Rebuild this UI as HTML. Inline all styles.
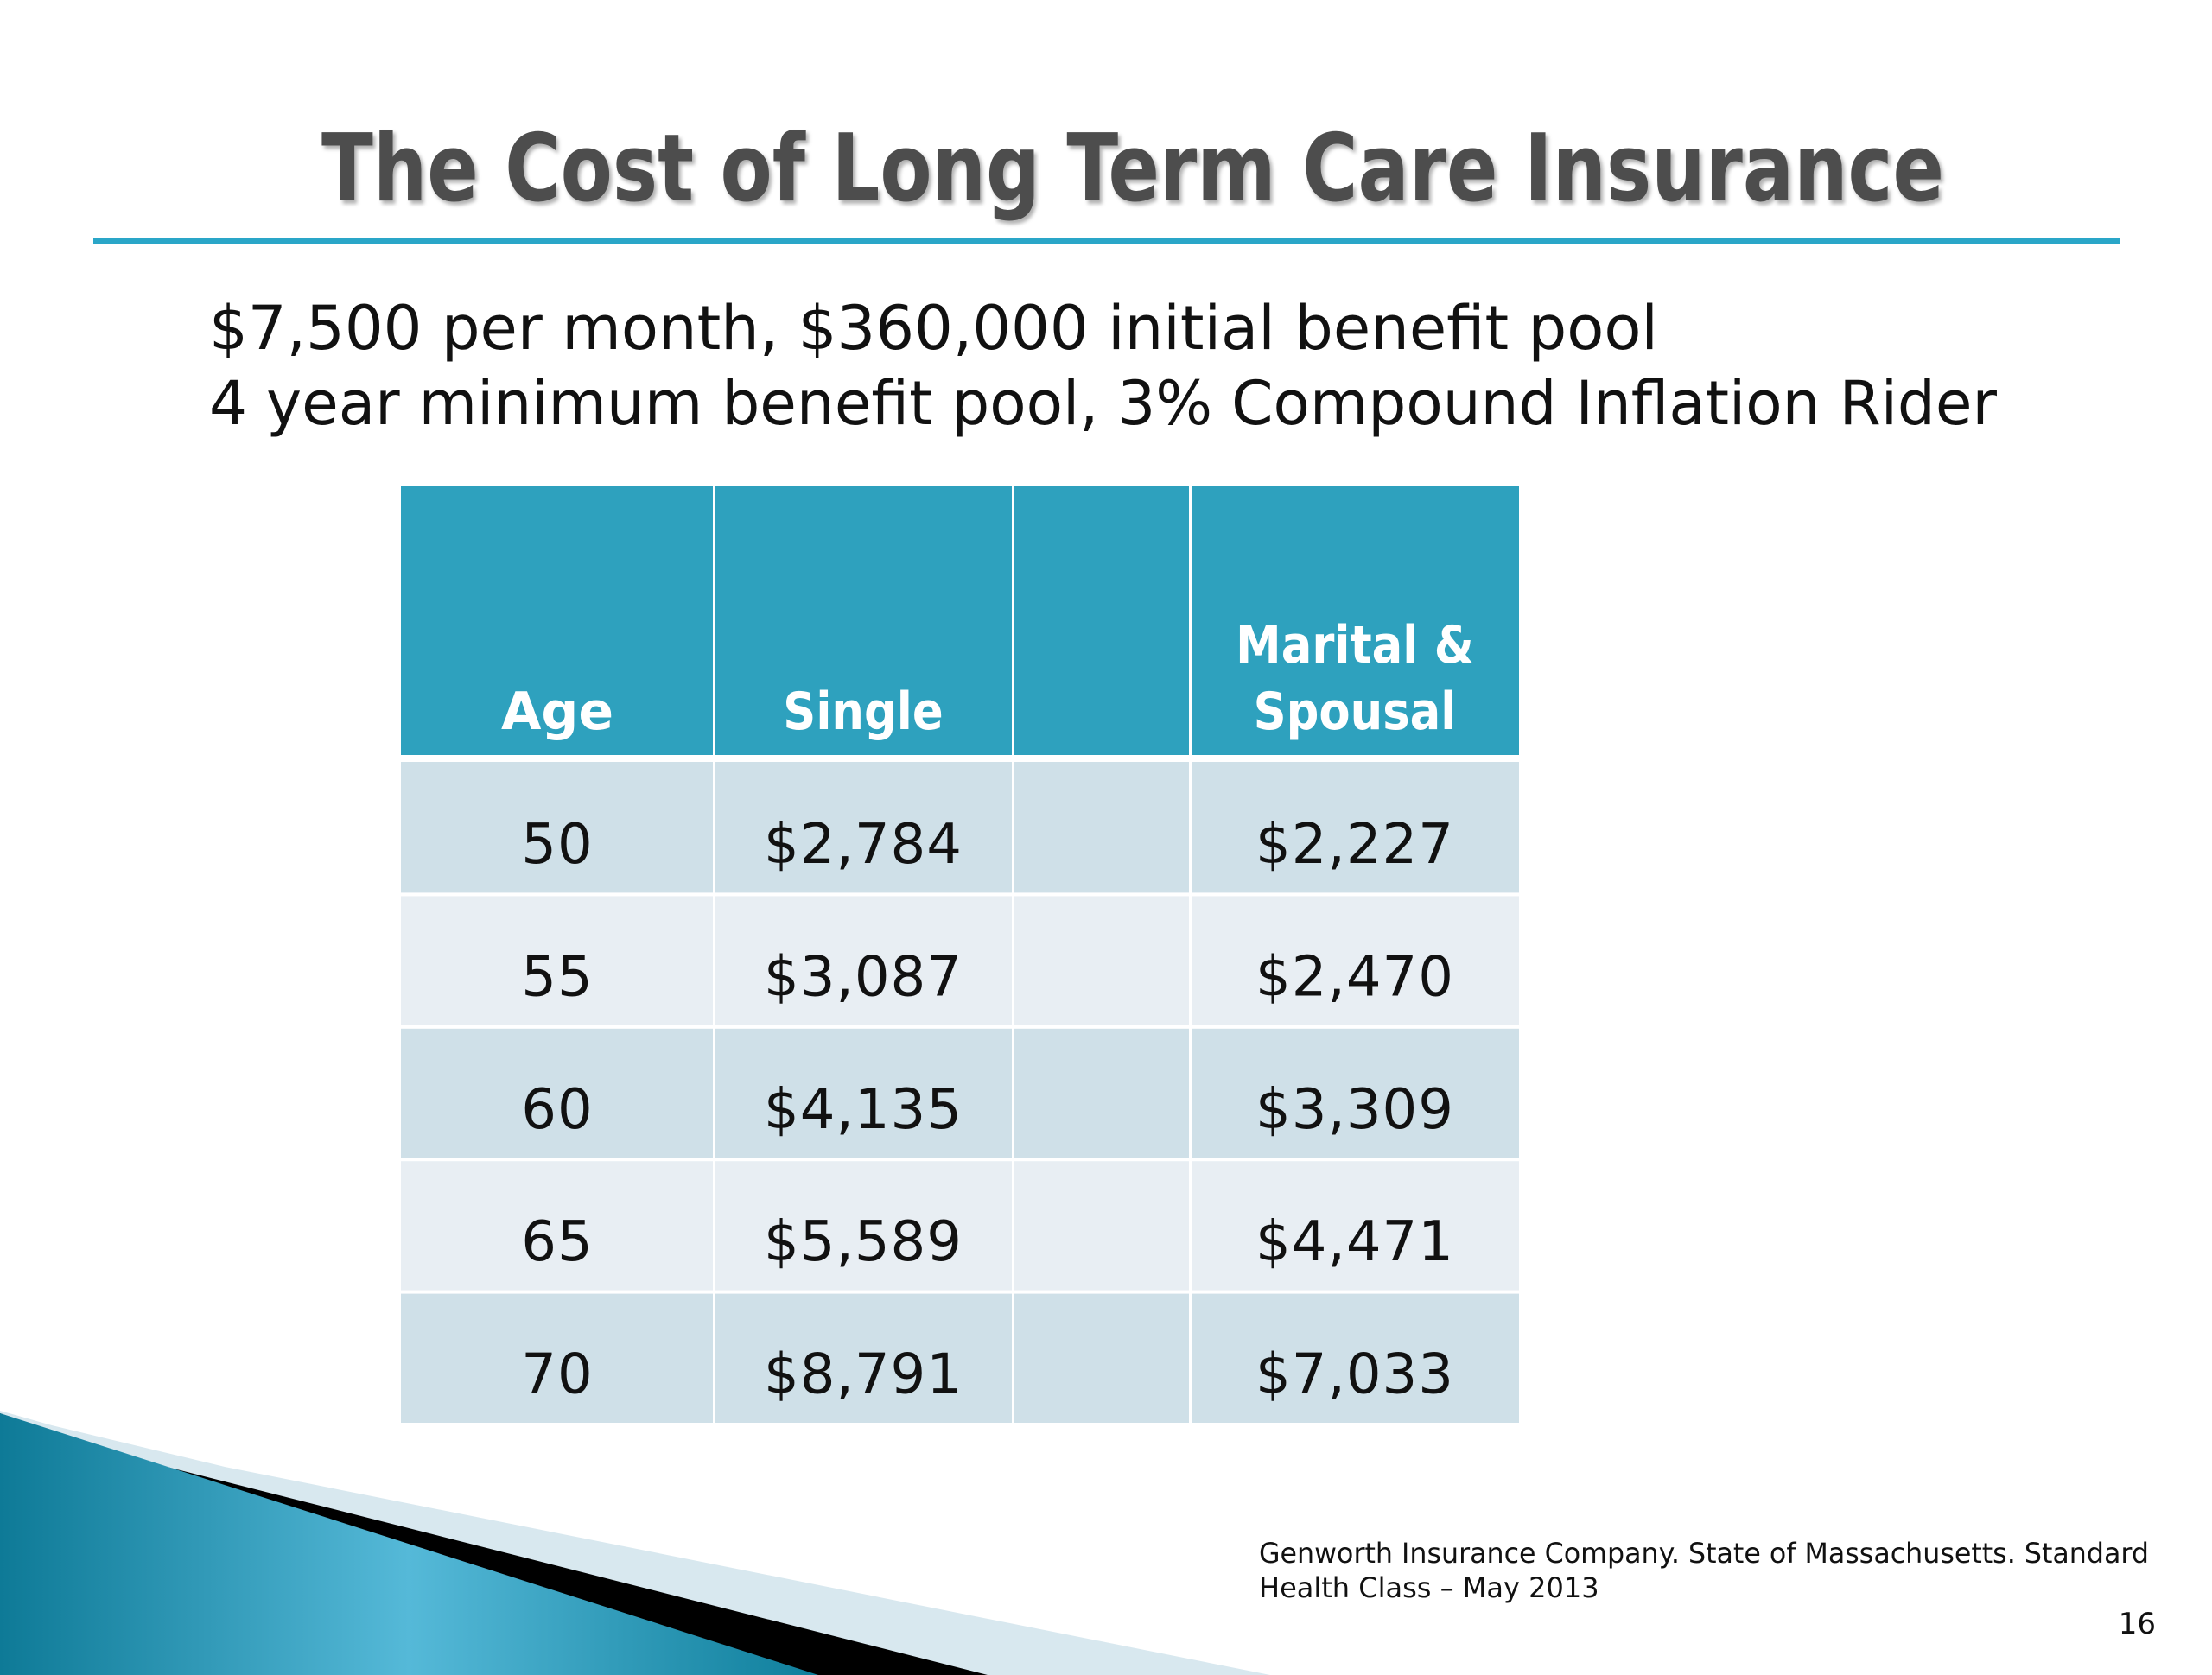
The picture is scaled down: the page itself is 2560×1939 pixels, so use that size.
<!DOCTYPE html>
<html><head><meta charset="utf-8"><style>
html,body{margin:0;padding:0;background:#fff;}
svg{display:block;}
</style></head><body>
<svg id="slide" width="2560" height="1939" viewBox="0 0 2560 1939" xmlns="http://www.w3.org/2000/svg">
<defs>
<linearGradient id="tg" x1="0" y1="0" x2="1" y2="0">
<stop offset="0" stop-color="#0e7a97"/><stop offset="0.5" stop-color="#55b9d8"/><stop offset="1" stop-color="#0f7f9c"/>
</linearGradient>
<filter id="sh" x="-5%" y="-20%" width="110%" height="140%"><feDropShadow dx="3" dy="4" stdDeviation="2" flood-color="#000" flood-opacity="0.3"/></filter>
</defs>
<text x="1311" y="232" text-anchor="middle" font-family="'DejaVu Sans','Liberation Sans',sans-serif" font-weight="bold" font-size="108" fill="#4d4d4d" textLength="1878" lengthAdjust="spacingAndGlyphs" filter="url(#sh)">The Cost of Long Term Care Insurance</text>
<rect x="108" y="276" width="2345" height="6" fill="#2aa6c8"/>
<text x="242" y="404" font-family="'DejaVu Sans','Liberation Sans',sans-serif" font-size="70" fill="#111" textLength="1677" lengthAdjust="spacingAndGlyphs">$7,500 per month, $360,000 initial benefit pool</text>
<text x="242" y="491" font-family="'DejaVu Sans','Liberation Sans',sans-serif" font-size="70" fill="#111" textLength="2069" lengthAdjust="spacingAndGlyphs">4 year minimum benefit pool, 3% Compound Inflation Rider</text>
<g id="table"></g>
<g>
<polygon points="0,1633 60,1650 260,1698 1470,1939 0,1939" fill="#d8e8ef"/>
<polygon points="0,1636 130,1682 1143,1939 0,1939" fill="#000"/>
<path d="M0,1636 Q420,1770 947,1939 L0,1939 Z" fill="url(#tg)"/>
</g>
<text x="1457" y="1809" font-family="'DejaVu Sans','Liberation Sans',sans-serif" font-size="32" fill="#111" textLength="1030" lengthAdjust="spacingAndGlyphs">Genworth Insurance Company.  State of Massachusetts.  Standard</text>
<text x="1457" y="1849" font-family="'DejaVu Sans','Liberation Sans',sans-serif" font-size="32" fill="#111">Health Class – May 2013</text>
<text x="2495" y="1891" text-anchor="end" font-family="'DejaVu Sans','Liberation Sans',sans-serif" font-size="34" fill="#111">16</text>
</svg>
<script>
const ages = ["50","55","60","65","70"];
const single = ["$2,784","$3,087","$4,135","$5,589","$8,791"];
const spousal = ["$2,227","$2,470","$3,309","$4,471","$7,033"];
const colEdges = [464, 826, 1172, 1377, 1759];
const NS = "http://www.w3.org/2000/svg";
const g = document.getElementById('table');
function mk(tag, attrs, text){
  const e = document.createElementNS(NS, tag);
  for (const k in attrs) e.setAttribute(k, attrs[k]);
  if (text !== undefined) e.textContent = text;
  g.appendChild(e); return e;
}
const font = "'DejaVu Sans','Liberation Sans',sans-serif";
const headTop = 563, headBot = 874, rowTop0 = 882, rowH = 153.4;
for (let c = 0; c < 4; c++) {
  const x = colEdges[c] + (c ? 2 : 0), w = colEdges[c+1] - x - 1;
  const r = mk('rect', {x:x, y:headTop, width:w, height:headBot-headTop, fill:'#2ea1be'});
  
  
  for (let i = 0; i < ages.length; i++) {
    const y = rowTop0 + i*rowH + (i ? 2 : 0);
    const rr = mk('rect', {x:x, y:y, width:w, height:rowH-(i?4:2), fill: i%2===0 ? '#cfe0e8' : '#e8eef3'});
    
    
  }
}
const cx = [645, 999, 1275, 1568];
const heads = [["Age"],["Single"],[],["Marital &","Spousal"]];
heads.forEach((lines, c) => {
  lines.forEach((t, j) => {
    const y = 844 - (lines.length-1-j)*77;
    const e = mk('text', {x:cx[c], y:y, 'text-anchor':'middle', 'font-family':font, 'font-weight':'bold', 'font-size':60, fill:'#fff'}, t);
    if (t.length > 3) e.setAttribute('transform', `translate(${cx[c]},0) scale(0.88,1) translate(${-cx[c]},0)`);
    
    
  });
});
ages.forEach((a, i) => {
  const y = rowTop0 + i*rowH + 117;
  const vals = [a, single[i], spousal[i]];
  const cols = [0,1,3];
  vals.forEach((v, k) => {
    const e = mk('text', {x:cx[cols[k]], y:y, 'text-anchor':'middle', 'font-family':font, 'font-size':64, fill:'#111', 'letter-spacing':1}, v);
    
    
  });
});
</script>
</body></html>
